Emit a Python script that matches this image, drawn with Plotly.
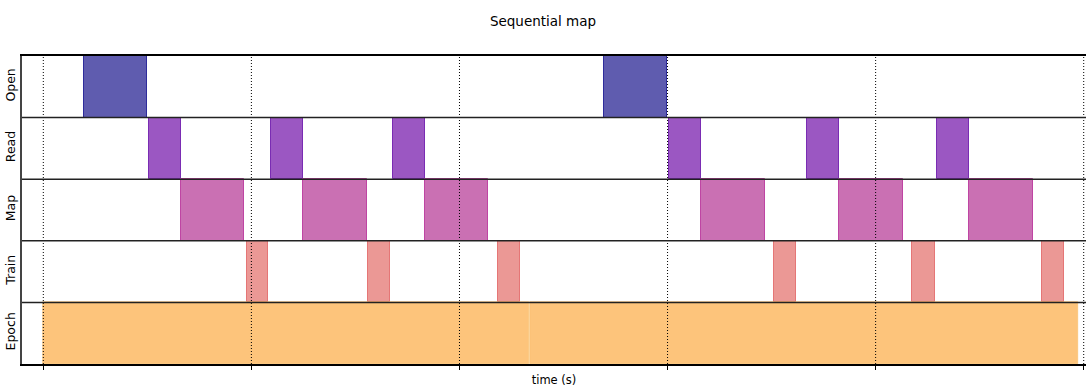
import plotly.graph_objects as go

# Pipeline stages, top row first
stages = ["Open", "Read", "Map", "Train", "Epoch"]

# Start / end times (seconds) of each event, per stage
open_start = [0.0196, 0.2694]
open_end = [0.0500, 0.2999]

read_start = [0.0508, 0.1094, 0.1679, 0.3007, 0.3670, 0.4295]
read_end = [0.0662, 0.1247, 0.1833, 0.3159, 0.3824, 0.4447]

map_start = [0.0662, 0.1248, 0.1834, 0.3161, 0.3824, 0.4450]
map_end = [0.0966, 0.1554, 0.2138, 0.3467, 0.4130, 0.4754]

train_start = [0.0977, 0.1562, 0.2186, 0.3513, 0.4176, 0.4801]
train_end = [0.1078, 0.1666, 0.2291, 0.3617, 0.4283, 0.4905]

epoch_start = [0.0, 0.2338]
epoch_end = [0.2336, 0.4971]

tick_values = [0.0, 0.1, 0.2, 0.3, 0.4, 0.5]

events = {
    "Open": (open_start, open_end, "#5f5caf", "#2e2c9c", 1),
    "Read": (read_start, read_end, "#9b57c2", "#7a2cb3", 1),
    "Map": (map_start, map_end, "#ca70b3", "#bf45a3", 1),
    "Train": (train_start, train_end, "#eb9895", "#e57676", 1),
    "Epoch": (epoch_start, epoch_end, "#fdc47b", "#f9bc66", 0.6),
}

fig = go.Figure()
for name in stages:
    starts, ends, fill, edge, lw = events[name]
    fig.add_trace(go.Bar(
        orientation="h",
        y=[name] * len(starts),
        base=starts,
        x=[e - s for s, e in zip(starts, ends)],
        width=1.0,
        marker=dict(color=fill, line=dict(color=edge, width=lw)),
        showlegend=False,
        hoverinfo="skip",
    ))

# Dotted vertical grid at each tick, drawn over the bars
for t in tick_values:
    fig.add_shape(type="line", xref="x", yref="paper", x0=t, x1=t, y0=0, y1=1,
                  line=dict(color="black", width=1, dash="1px,2px"), layer="above")

# Separators between the stage rows
for k in range(1, len(stages)):
    fig.add_shape(type="line", xref="paper", yref="y", x0=0, x1=1,
                  y0=k - 0.5, y1=k - 0.5,
                  line=dict(color="#222222", width=1.5), layer="above")

fig.update_layout(
    width=1086, height=387,
    margin=dict(l=22, r=0, t=56, b=23),
    paper_bgcolor="white", plot_bgcolor="white",
    font=dict(family="DejaVu Sans", size=12.5, color="black"),
    title=dict(text="Sequential map", x=0.5, xanchor="center", y=1 - 21 / 387,
               yanchor="middle", font=dict(size=13.5)),
    bargap=0,
    barmode="overlay",
)
fig.update_xaxes(
    range=[-0.01024, 0.5011],
    tickvals=tick_values, showticklabels=False,
    ticks="outside", ticklen=4, tickcolor="black", tickwidth=1,
    showgrid=False, zeroline=False,
    showline=True, linecolor="black", linewidth=1.5, mirror=True,
    title=dict(text="time (s)", standoff=8, font=dict(size=11.5)),
    automargin=False,
)
fig.update_yaxes(
    type="category", categoryorder="array", categoryarray=stages[::-1],
    range=[-0.5, 4.5],
    tickangle=-90, ticks="", showgrid=False, zeroline=False,
    showline=True, linecolor="#444444", linewidth=1.5,
    automargin=False,
)

fig.write_html("out.html")
